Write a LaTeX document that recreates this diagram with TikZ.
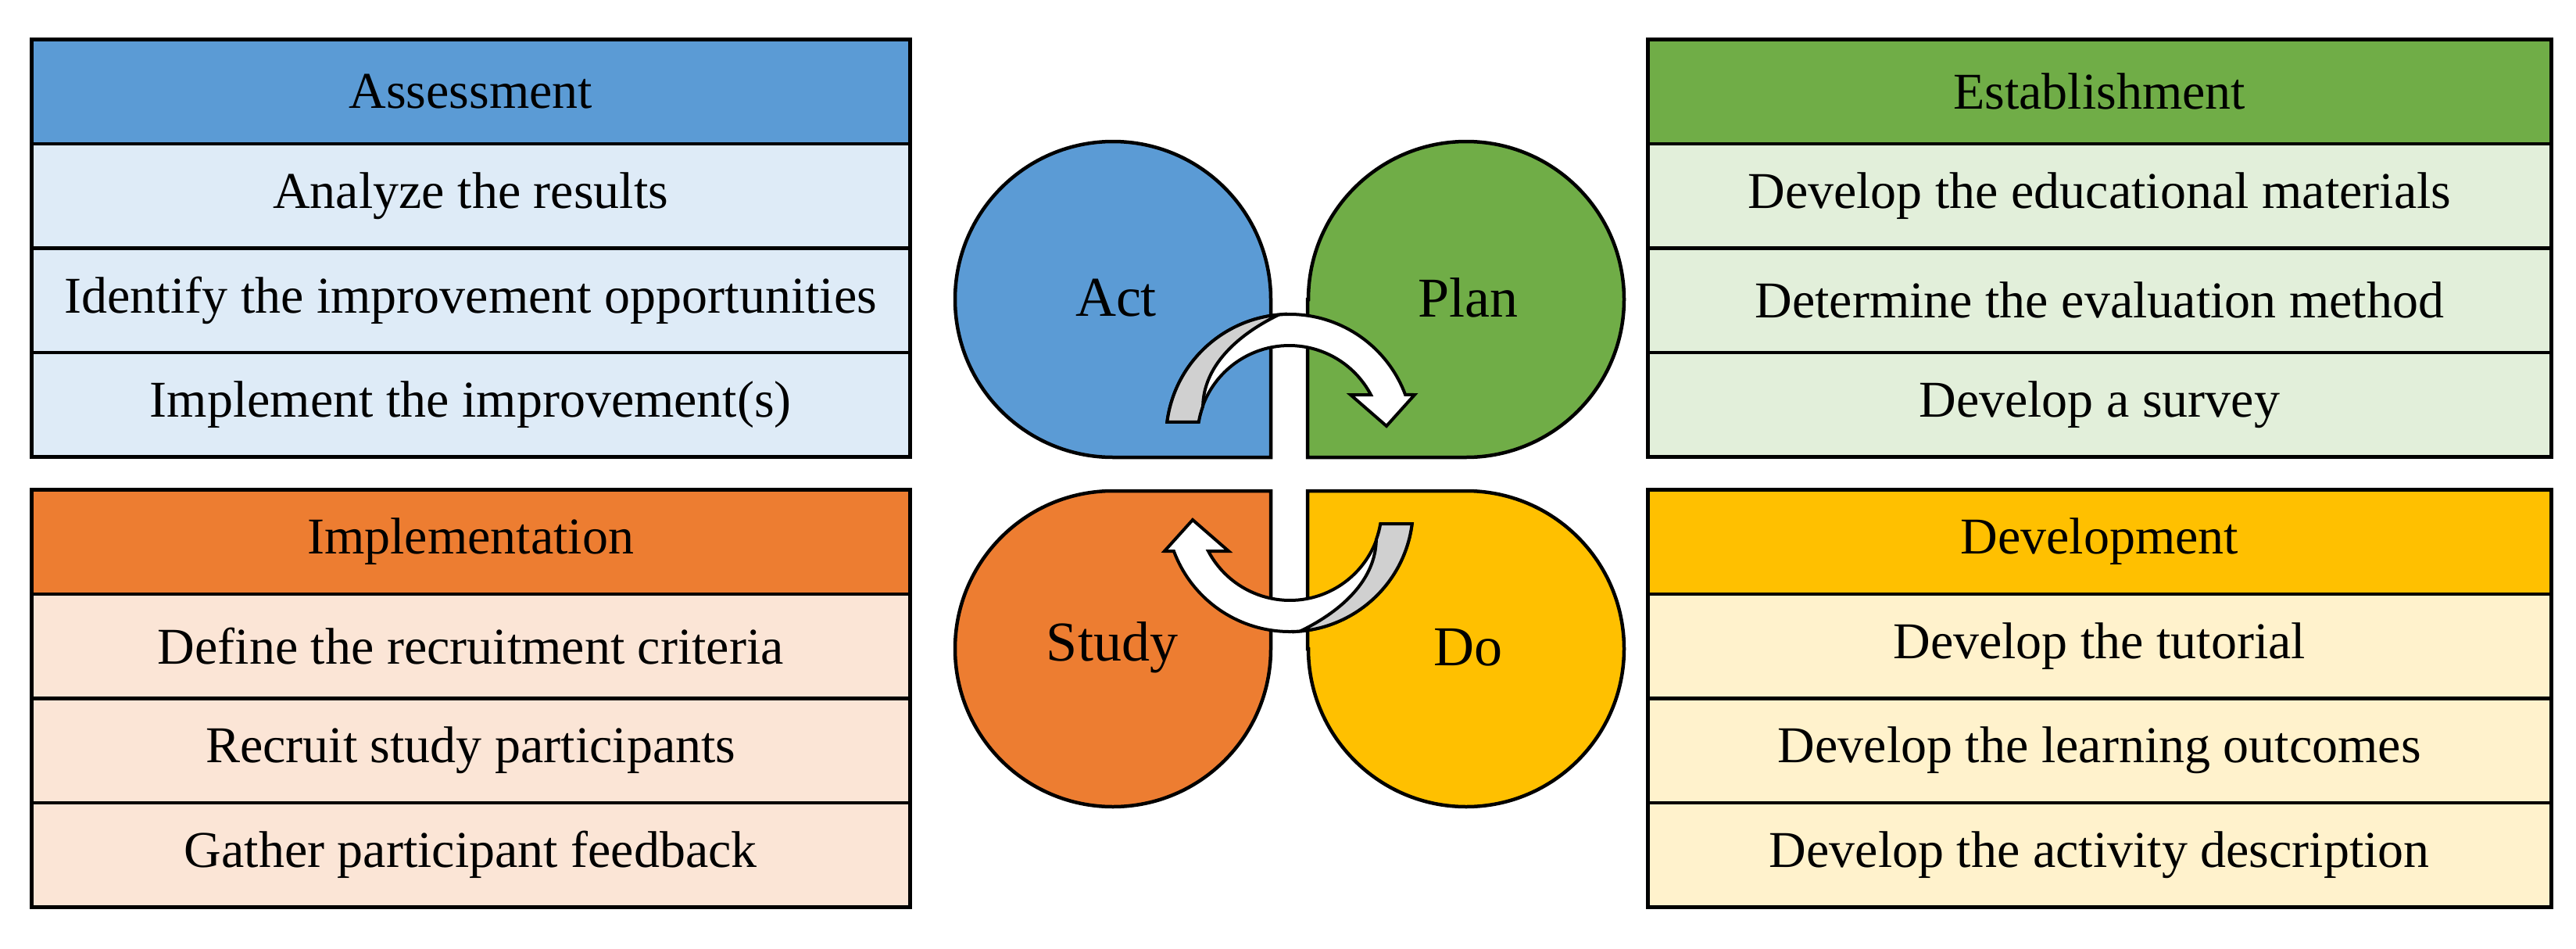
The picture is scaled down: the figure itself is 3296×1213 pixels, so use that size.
\documentclass[tikz,border=0pt]{standalone}
\usepackage{fontspec}
\setmainfont{Liberation Serif}
\usetikzlibrary{calc}
\begin{document}
\begin{tikzpicture}[x=1pt,y=1pt,
  cell/.style={draw,line width=4.5pt,rectangle,anchor=north west,inner sep=0pt,minimum height=133.5pt,font=\fontsize{66}{78}\selectfont},
  petal/.style={draw,line width=4.5pt},
  plabel/.style={font=\fontsize{72}{84}\selectfont},
  arr/.style={draw,line width=4pt,line join=miter}]
\definecolor{cB}{HTML}{5B9BD5}\definecolor{lB}{HTML}{DEEBF7}
\definecolor{cG}{HTML}{70AD47}\definecolor{lG}{HTML}{E2EFDA}
\definecolor{cO}{HTML}{ED7D31}\definecolor{lO}{HTML}{FBE5D6}
\definecolor{cY}{HTML}{FFC000}\definecolor{lY}{HTML}{FFF2CC}
\definecolor{gr}{HTML}{D0D0D0}
\useasboundingbox (0,0) rectangle (3296,-1213);
% left top table
\node[cell,fill=cB,minimum width=1124pt] (a0) at (38,-48) {Assessment};
\node[cell,fill=lB,minimum width=1124pt] (a1) at (38,-181.5) {Analyze the results};
\node[cell,fill=lB,minimum width=1124pt] (a2) at (38,-315) {Identify the improvement opportunities};
\node[cell,fill=lB,minimum width=1124pt] (a3) at (38,-448.5) {Implement the improvement(s)};
% left bottom
\node[cell,fill=cO,minimum width=1124pt] (i0) at (38,-624) {Implementation};
\node[cell,fill=lO,minimum width=1124pt] (i1) at (38,-757.5) {Define the recruitment criteria};
\node[cell,fill=lO,minimum width=1124pt] (i2) at (38,-891) {Recruit study participants};
\node[cell,fill=lO,minimum width=1124pt] (i3) at (38,-1024.5) {Gather participant feedback};
% right top
\node[cell,fill=cG,minimum width=1156pt] (e0) at (2106,-48) {Establishment};
\node[cell,fill=lG,minimum width=1156pt] (e1) at (2106,-181.5) {Develop the educational materials};
\node[cell,fill=lG,minimum width=1156pt] (e2) at (2106,-315) {Determine the evaluation method};
\node[cell,fill=lG,minimum width=1156pt] (e3) at (2106,-448.5) {Develop a survey};
% right bottom
\node[cell,fill=cY,minimum width=1156pt] (d0) at (2106,-624) {Development};
\node[cell,fill=lY,minimum width=1156pt] (d1) at (2106,-757.5) {Develop the tutorial};
\node[cell,fill=lY,minimum width=1156pt] (d2) at (2106,-891) {Develop the learning outcomes};
\node[cell,fill=lY,minimum width=1156pt] (d3) at (2106,-1024.5) {Develop the activity description};
% petals
\draw[petal,fill=cB] (1626,-383) -- (1626,-585) -- (1424,-585) arc[start angle=270,end angle=0,radius=202] -- cycle;
\draw[petal,fill=cG] (1673,-383) -- (1673,-585) -- (1876,-585) arc[start angle=270,end angle=540,radius=202] -- cycle;
\draw[petal,fill=cO] (1626,-830) -- (1626,-628) -- (1424,-628) arc[start angle=90,end angle=360,radius=202] -- cycle;
\draw[petal,fill=cY] (1673,-830) -- (1673,-628) -- (1876,-628) arc[start angle=90,end angle=-180,radius=202] -- cycle;
\node[plabel] (act) at (1428,-381) {Act};
\node[plabel] (plan) at (1878,-381) {Plan};
\node[plabel] (study) at (1423,-828) {Study};
\node[plabel] (do) at (1878,-828) {Do};
% arrows
\foreach \r in {0,180}{
\begin{scope}[rotate around={\r:(1650,-605)}]
\draw[arr,fill=white] (1650,-560) ++(172.7:158) arc[start angle=172.7,end angle=20.4,radius=158]
  -- (1810,-505) -- (1774,-545) -- (1728,-505) -- (1754,-505)
  arc[start angle=27.8,end angle=170.2,radius=118] -- cycle;
\draw[arr,fill=gr] (1650,-560) ++(172.7:158) arc[start angle=172.7,end angle=95,radius=158]
  .. controls (1580,-430) and (1540,-470) .. ($(1650,-560)+(160:118)$)
  arc[start angle=160,end angle=170.2,radius=118] -- cycle;
\end{scope}}
\end{tikzpicture}
\end{document}
